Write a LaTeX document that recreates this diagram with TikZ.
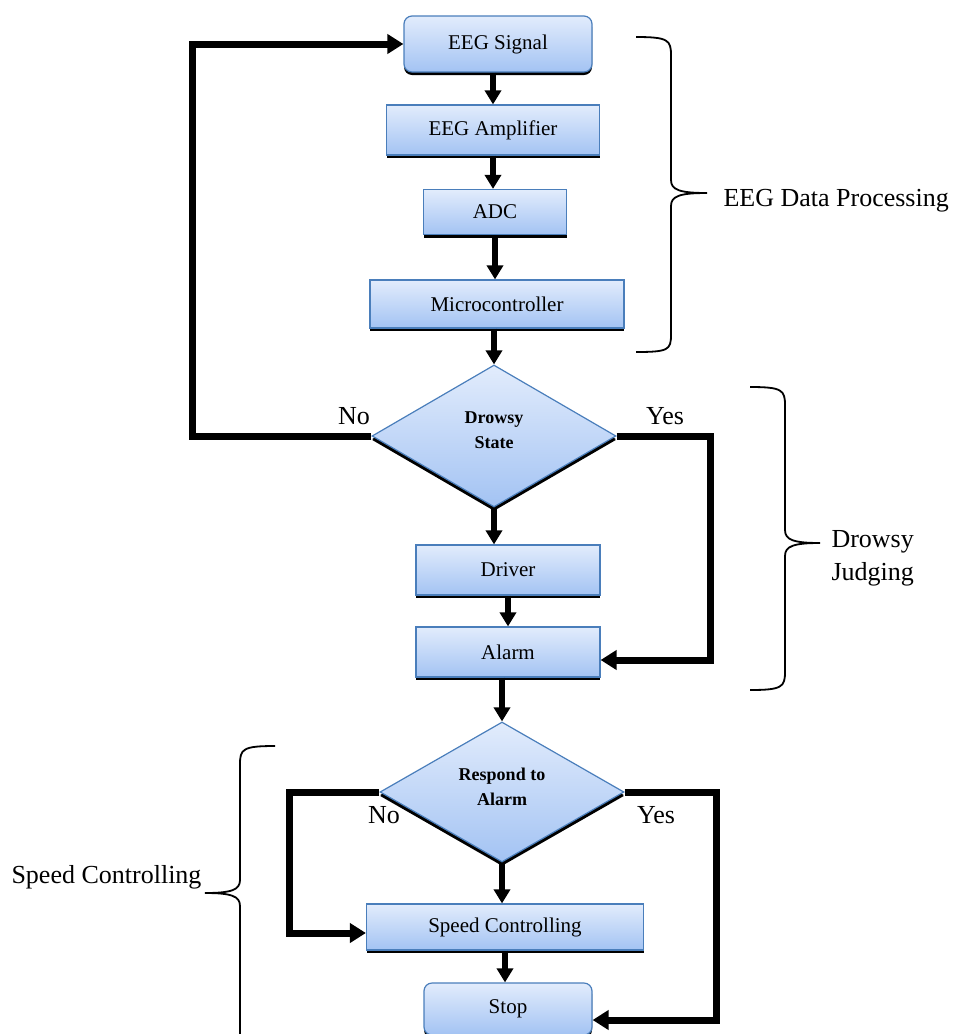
\documentclass[tikz,border=0pt]{standalone}
\usepackage{fontspec}
\setmainfont{Liberation Serif}
\usetikzlibrary{shapes,arrows.meta,positioning,calc,shadows}

\definecolor{boxline}{HTML}{4A7EBB}
\definecolor{boxtop}{HTML}{E2ECFC}
\definecolor{boxbot}{HTML}{A3C3F3}

\begin{document}
\begin{tikzpicture}[x=1pt, y={(0,-1pt)},
  blk/.style={draw=boxline, line width=1.2pt, top color=boxtop, bottom color=boxbot, inner sep=0pt,
    font=\fontsize{21}{24}\selectfont,
    drop shadow={shadow xshift=0pt, shadow yshift=-3pt, fill=black, opacity=1}},
  dec/.style={blk, diamond, font=\fontsize{18}{25}\selectfont\bfseries, align=center,
    drop shadow={shadow xshift=0pt, shadow yshift=-4pt, fill=black, opacity=1}},
  flow/.style={line width=6pt, -{Triangle[length=14pt,width=16pt]}},
  back/.style={line width=7pt, -{Triangle[length=16pt,width=19pt]}},
  lbl/.style={font=\fontsize{26}{33}\selectfont},
  brk/.style={line width=1.8pt}]
\useasboundingbox (0,0) rectangle (953,1034);

% blocks
\node[blk, rounded corners=8pt, minimum width=188pt, minimum height=56pt] (signal) at (498,44) {EEG Signal};
\node[blk, minimum width=213pt, minimum height=50pt] (amp) at (493,130) {EEG Amplifier};
\node[blk, minimum width=143pt, minimum height=45pt] (adc) at (495,212) {ADC};
\node[blk, minimum width=254pt, minimum height=48pt] (mcu) at (497,304) {Microcontroller};
\node[dec, minimum width=244pt, minimum height=142pt, aspect=1.72] (drowsy) at (494,436) {Drowsy\\State\\[-14pt]\mbox{}};
\node[blk, minimum width=184pt, minimum height=50pt] (driver) at (508,570) {Driver};
\node[blk, minimum width=184pt, minimum height=50pt] (alarm) at (508,652) {Alarm};
\node[dec, minimum width=244pt, minimum height=140pt, aspect=1.74] (respond) at (502,792) {Respond to\\Alarm\\[-14pt]\mbox{}};
\node[blk, minimum width=277pt, minimum height=46pt] (speed) at (505,927) {Speed Controlling};
\node[blk, rounded corners=8pt, minimum width=168pt, minimum height=52pt] (stop) at (508,1009) {Stop};

% main flow
\draw[flow] (signal.south -| amp) -- (amp.north);
\draw[flow] (amp.south) -- (amp.south |- adc.north);
\draw[flow] (adc.south) -- (adc.south |- mcu.north);
\draw[flow] (mcu.south -| drowsy) -- (drowsy.north);
\draw[flow] (drowsy.south) -- (drowsy.south |- driver.north);
\draw[flow] (driver.south) -- (alarm.north);
\draw[flow] (alarm.south -| respond) -- (respond.north);
\draw[flow] (respond.south) -- (respond.south |- speed.north);
\draw[flow] (speed.south) -- (speed.south |- stop.north);

% branches
\draw[back] (drowsy.west) -- ++(-179,0) |- (signal.west);
\draw[back] (drowsy.east) -- ++(94,0) |- ([yshift=-8pt]alarm.east);
\draw[back] (respond.west) -- ++(-90,0) |- ([yshift=-6pt]speed.west);
\draw[back] (respond.east) -- ++(92,0) |- ([yshift=-11pt]stop.east);

\node[lbl] (noA) at (354,416) {No};
\node[lbl] (yesA) at (665,416) {Yes};
\node[lbl] (noB) at (384,815) {No};
\node[lbl] (yesB) at (656,815) {Yes};

% braces
\draw[brk] (636,37) .. controls (668,37) and (671,40) .. (671,55) -- (671,180)
  .. controls (671,190) and (680,193) .. (707,193)
  .. controls (680,193) and (671,196) .. (671,206) -- (671,335)
  .. controls (671,350) and (668,352) .. (636,352);
\draw[brk] (750,387) .. controls (782,387) and (785,390) .. (785,405) -- (785,530)
  .. controls (785,540) and (794,543) .. (820,543)
  .. controls (794,543) and (785,546) .. (785,556) -- (785,672)
  .. controls (785,687) and (782,690) .. (750,690);
\draw[brk] (275,746) .. controls (243,746) and (240,749) .. (240,764) -- (240,880)
  .. controls (240,890) and (231,893) .. (205,893)
  .. controls (231,893) and (240,896) .. (240,906) -- (240,1040);

\node[lbl, anchor=west] (eegbr) at (720,201) {EEG Data Processing};
\node[lbl, anchor=west, align=left] (drowsybr) at (828,558) {Drowsy\\Judging};
\node[lbl, anchor=east] (speedbr) at (205,877) {Speed Controlling};
\end{tikzpicture}
\end{document}
